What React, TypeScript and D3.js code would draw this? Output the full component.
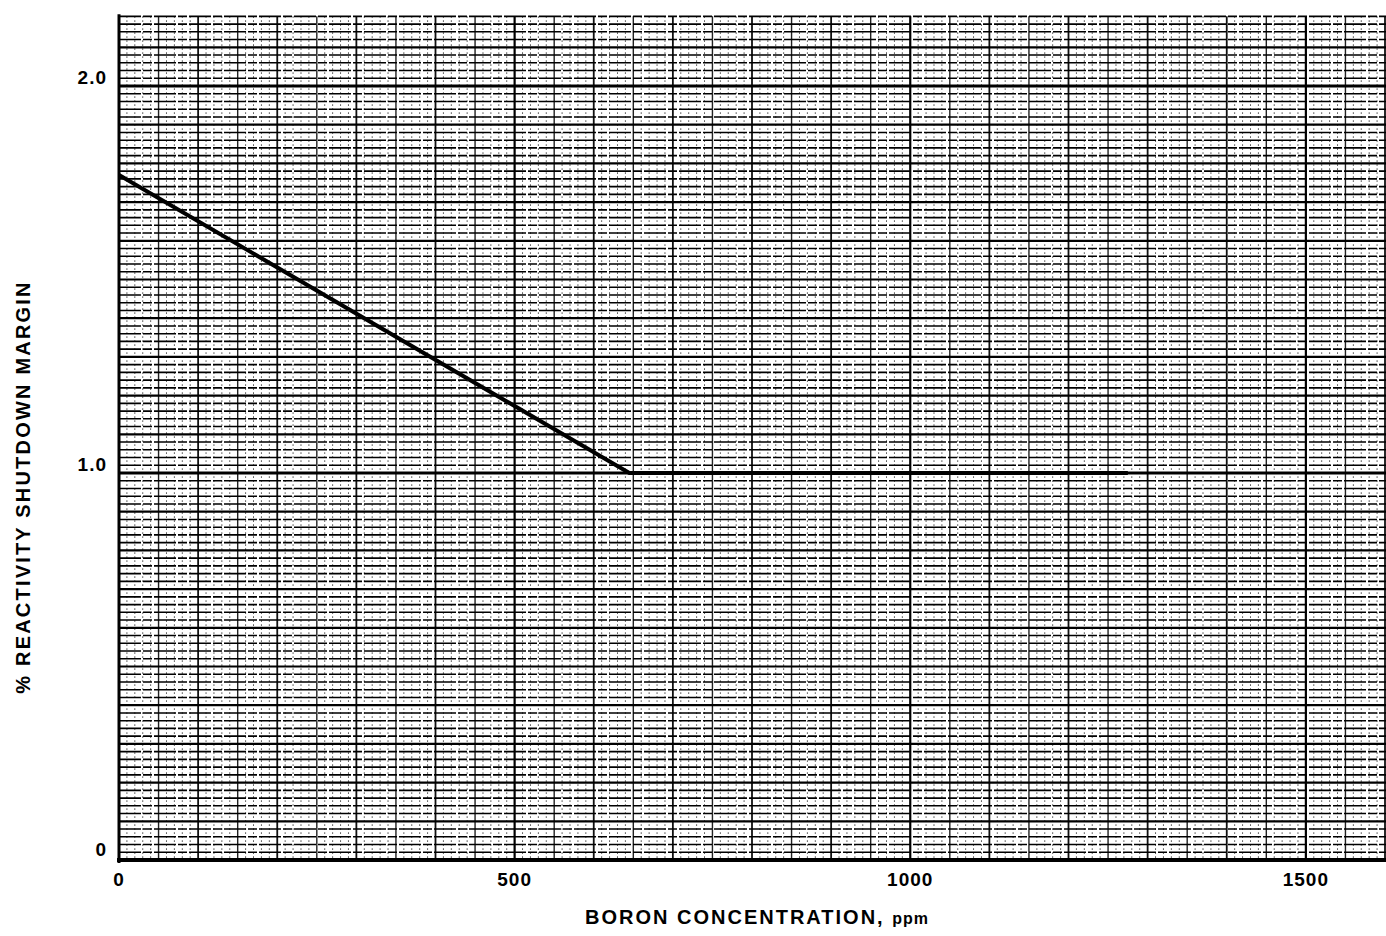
import React, { useEffect } from "react";
import * as d3 from "d3";

const boronPpm = [0, 645, 1275];
const shutdownMargin = [1.77, 1.0, 1.0];
const xTickValues = [0, 500, 1000, 1500];
const xTickLabels = ["0", "500", "1000", "1500"];
const yTickValues = [0, 1.0, 2.0];
const yTickLabels = ["0", "1.0", "2.0"];
const xTitle = "BORON CONCENTRATION, ";
const xTitleUnit = "ppm";
const yTitle = "% REACTIVITY SHUTDOWN MARGIN";

const W = 1386;
const H = 936;

export default function App() {
  useEffect(() => {
    document.body.style.margin = "0";
  }, []);

  const x = d3.scaleLinear().domain([0, 1600]).range([119, 1385]);
  const y = d3.scaleLinear().domain([0, 2]).range([860, 86]);
  const yTop = 2.18;

  const hLines = d3.range(0, 110).map((i) => i * 0.02).filter((v) => v <= yTop + 1e-9);
  const vLines = d3.range(1, 161).map((i) => i * 10);

  const line = d3
    .line<number>()
    .x((_, i) => x(boronPpm[i]))
    .y((d) => y(d));

  const font = "'Liberation Sans', Arial, sans-serif";

  return (
    <svg width={W} height={H} style={{ display: "block", background: "#fff" }}>
      {/* vertical grid */}
      {vLines.map((v) => {
        const k = Math.round(v);
        let stroke = "#444";
        let sw = 1;
        let dash: string | undefined = "1.5,2.5";
        if (k % 500 === 0) {
          stroke = "#000";
          sw = 2.2;
          dash = undefined;
        } else if (k % 100 === 0) {
          stroke = "#111";
          sw = 1.8;
          dash = undefined;
        } else if (k % 50 === 0) {
          stroke = "#222";
          sw = 1.4;
          dash = undefined;
        }
        return (
          <line
            key={"v" + k}
            x1={x(v)}
            x2={x(v)}
            y1={y(yTop)}
            y2={y(0)}
            stroke={stroke}
            strokeWidth={sw}
            strokeDasharray={dash}
          />
        );
      })}
      {/* horizontal grid */}
      {hLines.map((v) => {
        const k = Math.round(v * 100);
        let stroke = "#000";
        let sw = 1.6;
        let dash: string | undefined = "22,2,9,2";
        if (k % 100 === 0) {
          sw = 2.8;
          dash = undefined;
        } else if (k % 10 === 0) {
          sw = 2.2;
          dash = undefined;
        }
        return (
          <line
            key={"h" + k}
            x1={x(0)}
            x2={W}
            y1={y(v)}
            y2={y(v)}
            stroke={stroke}
            strokeWidth={sw}
            strokeDasharray={dash}
          />
        );
      })}
      {/* axes */}
      <line x1={x(0)} x2={x(0)} y1={y(yTop) - 2} y2={y(0) + 3} stroke="#000" strokeWidth={3} />
      <line x1={x(0) - 2} x2={W} y1={y(0)} y2={y(0)} stroke="#000" strokeWidth={4} />
      {/* data line */}
      <path d={line(shutdownMargin) || ""} fill="none" stroke="#000" strokeWidth={4} strokeLinejoin="round" />
      {/* x tick labels */}
      {xTickValues.map((v, i) => (
        <text
          key={"xt" + v}
          x={x(v)}
          y={886}
          textAnchor="middle"
          fontFamily={font}
          fontWeight="bold"
          fontSize={19}
          letterSpacing={1}
          fill="#000"
        >
          {xTickLabels[i]}
        </text>
      ))}
      {/* y tick labels */}
      {yTickValues.map((v, i) => (
        <text
          key={"yt" + v}
          x={107}
          y={y(v) - 2 - (v === 0 ? 2 : 0)}
          textAnchor="end"
          fontFamily={font}
          fontWeight="bold"
          fontSize={19}
          letterSpacing={1}
          fill="#000"
        >
          {yTickLabels[i]}
        </text>
      ))}
      {/* x title */}
      <text x={757} y={924} textAnchor="middle" fontFamily={font} fontWeight="bold" fontSize={20} letterSpacing={2} fill="#000">
        {xTitle}
        <tspan fontSize={16} letterSpacing={1}>{xTitleUnit}</tspan>
      </text>
      {/* y title */}
      <text
        transform={`translate(30,487) rotate(-90)`}
        textAnchor="middle"
        fontFamily={font}
        fontWeight="bold"
        fontSize={20}
        letterSpacing={2.2}
        fill="#000"
      >
        {yTitle}
      </text>
    </svg>
  );
}
